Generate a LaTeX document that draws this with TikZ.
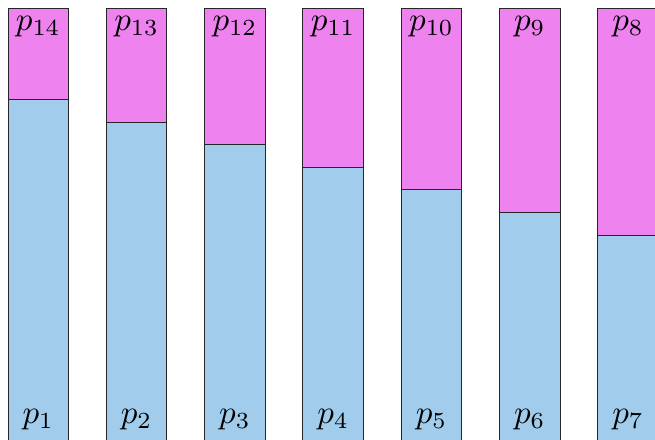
\documentclass[tikz,border=0pt]{standalone}
\definecolor{topc}{HTML}{EE82EE}
\definecolor{botc}{HTML}{A1CCEC}
\tikzset{
  barline/.style={draw=black!85, line width=0.9pt},
  lab/.style={anchor=base, inner sep=0pt}
}
\newcommand{\plab}[1]{\scalebox{3.3}{$p_{#1}$}}
\begin{document}
\begin{tikzpicture}[x=1pt,y=-1pt]
\useasboundingbox (0,0) rectangle (655,439);
\clip (0,0) rectangle (655,439);
\foreach \i in {1,...,7}{
  \pgfmathsetmacro{\xl}{8+98.3*(\i-1)}
  \pgfmathsetmacro{\xr}{\xl+60.5}
  \pgfmathsetmacro{\xc}{\xl+30.25}
  \pgfmathsetmacro{\ys}{99.5+22.6*(\i-1)}
  \pgfmathtruncatemacro{\j}{15-\i}
  \fill[topc] (\xl,8.5) rectangle (\xr,\ys);
  \fill[botc] (\xl,\ys) rectangle (\xr,470);
  \draw[barline] (\xl,470) -- (\xl,8.5) -- (\xr,8.5) -- (\xr,470);
  \draw[barline] (\xl,\ys) -- (\xr,\ys);
  \node[lab] (t\i) at (\xc,30.5) {\plab{\j}};
  \node[lab] (b\i) at (\xc,423.5) {\plab{\i}};
}
\end{tikzpicture}
\end{document}
